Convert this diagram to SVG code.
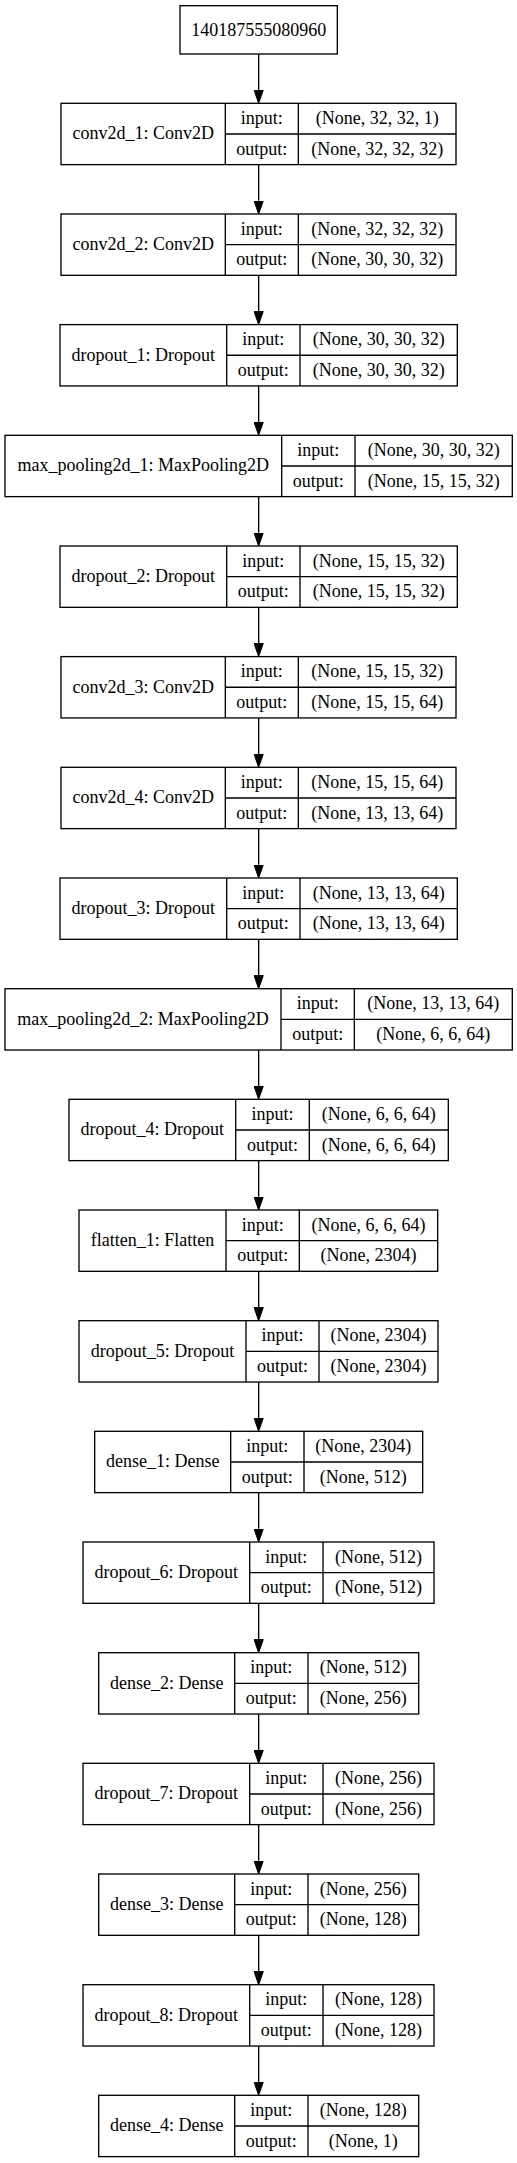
<svg xmlns="http://www.w3.org/2000/svg" width="517" height="2163" viewBox="0 0 517 2163">
<style>
.b{fill:#fff;stroke:#000;stroke-width:1.33}
.d{stroke:#000;stroke-width:1.33;fill:none}
text{font-family:"Liberation Serif","Times New Roman",serif;font-size:18px;fill:#000;text-anchor:middle}
.e{stroke:#000;stroke-width:1.4;fill:none}
</style>
<defs>
<marker id="ah" markerUnits="userSpaceOnUse" markerWidth="14" markerHeight="10" refX="0" refY="5" orient="auto">
<path d="M0,0.35 L13.3,5 L0,9.65 z" fill="#000" stroke="#000" stroke-width="1"/>
</marker>
</defs>
<rect width="517" height="2163" fill="#fff"/>
<g id="connectors">
<path class="e" marker-end="url(#ah)" d="M258.65,54 V90"/>
<path class="e" marker-end="url(#ah)" d="M258.65,164.6 V200.7"/>
<path class="e" marker-end="url(#ah)" d="M258.65,275.3 V311.3"/>
<path class="e" marker-end="url(#ah)" d="M258.65,386 V422"/>
<path class="e" marker-end="url(#ah)" d="M258.65,496.6 V532.7"/>
<path class="e" marker-end="url(#ah)" d="M258.65,607.3 V643.3"/>
<path class="e" marker-end="url(#ah)" d="M258.65,718 V754"/>
<path class="e" marker-end="url(#ah)" d="M258.65,828.6 V864.7"/>
<path class="e" marker-end="url(#ah)" d="M258.65,939.3 V975.4"/>
<path class="e" marker-end="url(#ah)" d="M258.65,1050 V1086"/>
<path class="e" marker-end="url(#ah)" d="M258.65,1160.7 V1196.7"/>
<path class="e" marker-end="url(#ah)" d="M258.65,1271.3 V1307.4"/>
<path class="e" marker-end="url(#ah)" d="M258.65,1382 V1418"/>
<path class="e" marker-end="url(#ah)" d="M258.65,1492.7 V1528.7"/>
<path class="e" marker-end="url(#ah)" d="M258.65,1603.3 V1639.4"/>
<path class="e" marker-end="url(#ah)" d="M258.65,1714 V1750"/>
<path class="e" marker-end="url(#ah)" d="M258.65,1824.7 V1860.7"/>
<path class="e" marker-end="url(#ah)" d="M258.65,1935.3 V1971.4"/>
<path class="e" marker-end="url(#ah)" d="M258.65,2046 V2082"/>
</g>
<g id="input_node">
<rect class="b" x="180" y="5.7" width="157.3" height="48.3"/>
<text x="258.65" y="35.5">140187555080960</text>
</g>
<g id="conv2d_1" transform="translate(0,103.3)">
<rect class="b" x="61" y="0" width="395" height="61.33"/>
<path class="d" d="M225.3,0 V61.33 M298.3,0 V61.33 M225.3,30.67 H456"/>
<text x="143.2" y="36.2">conv2d_1: Conv2D</text>
<text x="261.8" y="20.8">input:</text><text x="261.8" y="51.3">output:</text>
<text x="377.2" y="20.8">(None, 32, 32, 1)</text><text x="377.2" y="51.3">(None, 32, 32, 32)</text>
</g>
<g id="conv2d_2" transform="translate(0,214)">
<rect class="b" x="61" y="0" width="395" height="61.33"/>
<path class="d" d="M225.3,0 V61.33 M298.3,0 V61.33 M225.3,30.67 H456"/>
<text x="143.2" y="36.2">conv2d_2: Conv2D</text>
<text x="261.8" y="20.8">input:</text><text x="261.8" y="51.3">output:</text>
<text x="377.2" y="20.8">(None, 32, 32, 32)</text><text x="377.2" y="51.3">(None, 30, 30, 32)</text>
</g>
<g id="dropout_1" transform="translate(0,324.6)">
<rect class="b" x="60" y="0" width="397.3" height="61.33"/>
<path class="d" d="M226.7,0 V61.33 M300,0 V61.33 M226.7,30.67 H457.3"/>
<text x="143.3" y="36.2">dropout_1: Dropout</text>
<text x="263.3" y="20.8">input:</text><text x="263.3" y="51.3">output:</text>
<text x="378.7" y="20.8">(None, 30, 30, 32)</text><text x="378.7" y="51.3">(None, 30, 30, 32)</text>
</g>
<g id="max_pooling2d_1" transform="translate(0,435.3)">
<rect class="b" x="5" y="0" width="507.3" height="61.33"/>
<path class="d" d="M281.7,0 V61.33 M355,0 V61.33 M281.7,30.67 H512.3"/>
<text x="143.3" y="36.2">max_pooling2d_1: MaxPooling2D</text>
<text x="318.3" y="20.8">input:</text><text x="318.3" y="51.3">output:</text>
<text x="433.7" y="20.8">(None, 30, 30, 32)</text><text x="433.7" y="51.3">(None, 15, 15, 32)</text>
</g>
<g id="dropout_2" transform="translate(0,546)">
<rect class="b" x="60" y="0" width="397.3" height="61.33"/>
<path class="d" d="M226.7,0 V61.33 M300,0 V61.33 M226.7,30.67 H457.3"/>
<text x="143.3" y="36.2">dropout_2: Dropout</text>
<text x="263.3" y="20.8">input:</text><text x="263.3" y="51.3">output:</text>
<text x="378.7" y="20.8">(None, 15, 15, 32)</text><text x="378.7" y="51.3">(None, 15, 15, 32)</text>
</g>
<g id="conv2d_3" transform="translate(0,656.6)">
<rect class="b" x="61" y="0" width="395" height="61.33"/>
<path class="d" d="M225.3,0 V61.33 M298.3,0 V61.33 M225.3,30.67 H456"/>
<text x="143.2" y="36.2">conv2d_3: Conv2D</text>
<text x="261.8" y="20.8">input:</text><text x="261.8" y="51.3">output:</text>
<text x="377.2" y="20.8">(None, 15, 15, 32)</text><text x="377.2" y="51.3">(None, 15, 15, 64)</text>
</g>
<g id="conv2d_4" transform="translate(0,767.3)">
<rect class="b" x="61" y="0" width="395" height="61.33"/>
<path class="d" d="M225.3,0 V61.33 M298.3,0 V61.33 M225.3,30.67 H456"/>
<text x="143.2" y="36.2">conv2d_4: Conv2D</text>
<text x="261.8" y="20.8">input:</text><text x="261.8" y="51.3">output:</text>
<text x="377.2" y="20.8">(None, 15, 15, 64)</text><text x="377.2" y="51.3">(None, 13, 13, 64)</text>
</g>
<g id="dropout_3" transform="translate(0,878)">
<rect class="b" x="60" y="0" width="397.3" height="61.33"/>
<path class="d" d="M226.7,0 V61.33 M300,0 V61.33 M226.7,30.67 H457.3"/>
<text x="143.3" y="36.2">dropout_3: Dropout</text>
<text x="263.3" y="20.8">input:</text><text x="263.3" y="51.3">output:</text>
<text x="378.7" y="20.8">(None, 13, 13, 64)</text><text x="378.7" y="51.3">(None, 13, 13, 64)</text>
</g>
<g id="max_pooling2d_2" transform="translate(0,988.7)">
<rect class="b" x="5" y="0" width="507.3" height="61.33"/>
<path class="d" d="M281,0 V61.33 M354.3,0 V61.33 M281,30.67 H512.3"/>
<text x="143" y="36.2">max_pooling2d_2: MaxPooling2D</text>
<text x="317.7" y="20.8">input:</text><text x="317.7" y="51.3">output:</text>
<text x="433.3" y="20.8">(None, 13, 13, 64)</text><text x="433.3" y="51.3">(None, 6, 6, 64)</text>
</g>
<g id="dropout_4" transform="translate(0,1099.3)">
<rect class="b" x="69" y="0" width="379.3" height="61.33"/>
<path class="d" d="M235.7,0 V61.33 M309.3,0 V61.33 M235.7,30.67 H448.3"/>
<text x="152.3" y="36.2">dropout_4: Dropout</text>
<text x="272.5" y="20.8">input:</text><text x="272.5" y="51.3">output:</text>
<text x="378.8" y="20.8">(None, 6, 6, 64)</text><text x="378.8" y="51.3">(None, 6, 6, 64)</text>
</g>
<g id="flatten_1" transform="translate(0,1210)">
<rect class="b" x="79" y="0" width="358.7" height="61.33"/>
<path class="d" d="M226,0 V61.33 M299.3,0 V61.33 M226,30.67 H437.7"/>
<text x="152.5" y="36.2">flatten_1: Flatten</text>
<text x="262.7" y="20.8">input:</text><text x="262.7" y="51.3">output:</text>
<text x="368.5" y="20.8">(None, 6, 6, 64)</text><text x="368.5" y="51.3">(None, 2304)</text>
</g>
<g id="dropout_5" transform="translate(0,1320.7)">
<rect class="b" x="79" y="0" width="359" height="61.33"/>
<path class="d" d="M246,0 V61.33 M319,0 V61.33 M246,30.67 H438"/>
<text x="162.5" y="36.2">dropout_5: Dropout</text>
<text x="282.5" y="20.8">input:</text><text x="282.5" y="51.3">output:</text>
<text x="378.5" y="20.8">(None, 2304)</text><text x="378.5" y="51.3">(None, 2304)</text>
</g>
<g id="dense_1" transform="translate(0,1431.3)">
<rect class="b" x="94.7" y="0" width="328" height="61.33"/>
<path class="d" d="M230.7,0 V61.33 M304,0 V61.33 M230.7,30.67 H422.7"/>
<text x="162.7" y="36.2">dense_1: Dense</text>
<text x="267.3" y="20.8">input:</text><text x="267.3" y="51.3">output:</text>
<text x="363.3" y="20.8">(None, 2304)</text><text x="363.3" y="51.3">(None, 512)</text>
</g>
<g id="dropout_6" transform="translate(0,1542)">
<rect class="b" x="83" y="0" width="351" height="61.33"/>
<path class="d" d="M249.7,0 V61.33 M323,0 V61.33 M249.7,30.67 H434"/>
<text x="166.3" y="36.2">dropout_6: Dropout</text>
<text x="286.3" y="20.8">input:</text><text x="286.3" y="51.3">output:</text>
<text x="378.5" y="20.8">(None, 512)</text><text x="378.5" y="51.3">(None, 512)</text>
</g>
<g id="dense_2" transform="translate(0,1652.7)">
<rect class="b" x="98.7" y="0" width="320" height="61.33"/>
<path class="d" d="M234.7,0 V61.33 M308,0 V61.33 M234.7,30.67 H418.7"/>
<text x="166.7" y="36.2">dense_2: Dense</text>
<text x="271.3" y="20.8">input:</text><text x="271.3" y="51.3">output:</text>
<text x="363.3" y="20.8">(None, 512)</text><text x="363.3" y="51.3">(None, 256)</text>
</g>
<g id="dropout_7" transform="translate(0,1763.3)">
<rect class="b" x="83" y="0" width="351" height="61.33"/>
<path class="d" d="M249.7,0 V61.33 M323,0 V61.33 M249.7,30.67 H434"/>
<text x="166.3" y="36.2">dropout_7: Dropout</text>
<text x="286.3" y="20.8">input:</text><text x="286.3" y="51.3">output:</text>
<text x="378.5" y="20.8">(None, 256)</text><text x="378.5" y="51.3">(None, 256)</text>
</g>
<g id="dense_3" transform="translate(0,1874)">
<rect class="b" x="98.7" y="0" width="320" height="61.33"/>
<path class="d" d="M234.7,0 V61.33 M308,0 V61.33 M234.7,30.67 H418.7"/>
<text x="166.7" y="36.2">dense_3: Dense</text>
<text x="271.3" y="20.8">input:</text><text x="271.3" y="51.3">output:</text>
<text x="363.3" y="20.8">(None, 256)</text><text x="363.3" y="51.3">(None, 128)</text>
</g>
<g id="dropout_8" transform="translate(0,1984.7)">
<rect class="b" x="83" y="0" width="351" height="61.33"/>
<path class="d" d="M249.7,0 V61.33 M323,0 V61.33 M249.7,30.67 H434"/>
<text x="166.3" y="36.2">dropout_8: Dropout</text>
<text x="286.3" y="20.8">input:</text><text x="286.3" y="51.3">output:</text>
<text x="378.5" y="20.8">(None, 128)</text><text x="378.5" y="51.3">(None, 128)</text>
</g>
<g id="dense_4" transform="translate(0,2095.3)">
<rect class="b" x="98.7" y="0" width="320" height="61.33"/>
<path class="d" d="M234.7,0 V61.33 M308,0 V61.33 M234.7,30.67 H418.7"/>
<text x="166.7" y="36.2">dense_4: Dense</text>
<text x="271.3" y="20.8">input:</text><text x="271.3" y="51.3">output:</text>
<text x="363.3" y="20.8">(None, 128)</text><text x="363.3" y="51.3">(None, 1)</text>
</g>
</svg>
